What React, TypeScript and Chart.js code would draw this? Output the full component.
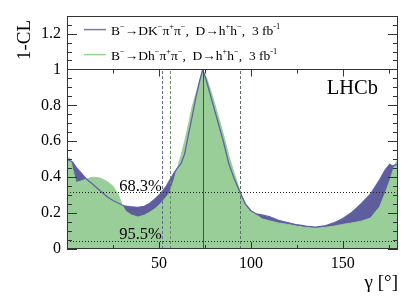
import React, { useEffect, useRef } from 'react';
import { Chart, registerables } from 'chart.js';

Chart.register(...registerables);

// gamma grid (degrees)
const gammaDeg = [
  0, 2, 3, 5, 8, 10.5, 14, 18, 22, 25, 28, 30, 32, 35, 38.5, 42, 45, 48, 51, 54, 56, 58, 60, 62, 64, 66, 68, 70, 72, 73.8,
  76, 79, 82, 85, 88, 91, 94.3, 97, 100, 103, 106, 110, 115, 120, 125, 130, 135, 140, 145, 150, 155, 160, 165, 170, 173,
  175.5, 177, 178.5, 180,
];
// 1-CL for B- -> D h- pi+ pi- (green)
const dhValues = [
  0.51, 0.5, 0.45, 0.37, 0.38, 0.39, 0.4, 0.395, 0.375, 0.35, 0.3, 0.245, 0.21, 0.19, 0.178, 0.188, 0.205, 0.225, 0.255,
  0.29, 0.317, 0.38, 0.45, 0.52, 0.6, 0.69, 0.79, 0.86, 0.93, 1.0,
  0.95, 0.855, 0.75, 0.64, 0.52, 0.42, 0.317, 0.255, 0.215, 0.19, 0.168, 0.157, 0.145, 0.137, 0.128, 0.12, 0.117, 0.12,
  0.127, 0.137, 0.145, 0.155, 0.172, 0.235, 0.31, 0.38, 0.43, 0.475, 0.5,
];
// 1-CL for B- -> D K- pi+ pi- (blue)
const dkValues = [
  0.5, 0.49, 0.485, 0.455, 0.42, 0.39, 0.36, 0.325, 0.29, 0.27, 0.255, 0.245, 0.238, 0.235, 0.232, 0.238, 0.255, 0.28, 0.31,
  0.35, 0.385, 0.42, 0.45, 0.475, 0.53, 0.635, 0.735, 0.84, 0.93, 1.0,
  0.93, 0.82, 0.71, 0.6, 0.475, 0.39, 0.31, 0.25, 0.213, 0.195, 0.19, 0.18, 0.16, 0.147, 0.135, 0.127, 0.122, 0.128,
  0.145, 0.17, 0.205, 0.252, 0.305, 0.385, 0.44, 0.472, 0.462, 0.468, 0.47,
];

const xTickValues = [50, 100, 150];
const yTickValues = [0, 0.2, 0.4, 0.6, 0.8, 1, 1.2];
const clLevels = [68.3, 95.5];
const bestFit = 73.8;
const dkInterval = [51.6, 94.3];
const dhInterval = [56, 94.3];

type Seg = [string, number];
const legendRows: Seg[][] = [
  [['B', 0], ['\u2212', 1], ['\u2192DK', 0], ['\u2212', 1], ['\u03c0', 0], ['+', 1], ['\u03c0', 0], ['\u2212', 1], [',  D\u2192h', 0], ['+', 1], ['h', 0], ['\u2212', 1], [',  3 fb', 0], ['-1', 1]],
  [['B', 0], ['\u2212', 1], ['\u2192Dh', 0], ['\u2212', 1], ['\u03c0', 0], ['+', 1], ['\u03c0', 0], ['\u2212', 1], [',  D\u2192h', 0], ['+', 1], ['h', 0], ['\u2212', 1], [',  3 fb', 0], ['-1', 1]],
];
const yTitle = '1-CL';
const xTitle = '\u03b3 [\u00b0]';
const experimentLabel = 'LHCb';

const SERIF = '"Liberation Serif", "Times New Roman", serif';
const BLUE_FILL = 'rgb(94,94,156)';
const BLUE_LINE = 'rgb(98,98,168)';
const GREEN_FILL = 'rgb(153,206,153)';
const BLUE_LEG = 'rgb(120,120,176)';
const GREEN_LEG = 'rgb(150,212,150)';
const FRAME = '#333';

function drawRich(ctx: CanvasRenderingContext2D, segs: Seg[], x: number, y: number, size: number) {
  let cx = x;
  for (const [t, sup] of segs) {
    const fs = sup ? size * 0.62 : size;
    ctx.font = `${fs}px ${SERIF}`;
    ctx.fillText(t, cx, sup ? y - size * 0.4 : y);
    cx += ctx.measureText(t).width;
  }
}

const overlay = {
  id: 'overlay',
  afterDatasetsDraw(chart: any) {
    const { ctx, chartArea: a, scales } = chart;
    const xs = scales.x;
    const ys = scales.y;
    const X = (v: number) => xs.getPixelForValue(v);
    const Y = (v: number) => ys.getPixelForValue(v);
    const line = (x1: number, y1: number, x2: number, y2: number) => {
      ctx.beginPath();
      ctx.moveTo(x1, y1);
      ctx.lineTo(x2, y2);
      ctx.stroke();
    };
    ctx.save();
    ctx.lineWidth = 1;

    // CL horizontal dotted lines
    ctx.strokeStyle = '#222';
    ctx.setLineDash([1, 2]);
    for (const cl of clLevels) {
      const yy = Math.round(Y(1 - cl / 100)) + 0.5;
      line(a.left, yy, a.right, yy);
    }
    // interval dashed lines
    ctx.setLineDash([3, 2]);
    const y0 = Y(0);
    const y1 = Y(1);
    ctx.strokeStyle = 'rgb(100,100,160)';
    line(Math.round(X(dkInterval[0])) + 0.5, y0, Math.round(X(dkInterval[0])) + 0.5, y1);
    ctx.strokeStyle = 'rgb(110,140,110)';
    line(Math.round(X(dhInterval[0])) + 0.5, y0, Math.round(X(dhInterval[0])) + 0.5, y1);
    ctx.strokeStyle = 'rgb(95,110,105)';
    line(Math.round(X(dkInterval[1])) + 0.5, y0, Math.round(X(dkInterval[1])) + 0.5, y1);
    // best fit
    ctx.setLineDash([]);
    ctx.strokeStyle = 'rgb(70,80,75)';
    line(Math.round(X(bestFit)) + 0.5, y0, Math.round(X(bestFit)) + 0.5, y1);

    // CL labels
    ctx.fillStyle = '#000';
    ctx.font = `16.5px ${SERIF}`;
    ctx.textAlign = 'left';
    ctx.textBaseline = 'alphabetic';
    ctx.fillText(`${clLevels[0]}%`, X(28.4), Y(1 - clLevels[0] / 100) - 1.5);
    ctx.fillText(`${clLevels[1]}%`, X(28.4), Y(1 - clLevels[1] / 100) - 1.5);

    // legend box
    const top = a.top;
    const lb = Math.round(y1) + 0.5;
    ctx.fillStyle = '#fff';
    ctx.fillRect(a.left, top, a.right - a.left, lb - top);
    ctx.strokeStyle = FRAME;
    line(a.left, lb, a.right, lb);
    const rowsY = [top + 14, top + 39];
    const legCols = [BLUE_LEG, GREEN_LEG];
    legendRows.forEach((segs, i) => {
      ctx.strokeStyle = legCols[i];
      ctx.lineWidth = 1.5;
      line(a.left + 17, rowsY[i], a.left + 39, rowsY[i]);
      ctx.fillStyle = '#000';
      drawRich(ctx, segs, a.left + 44, rowsY[i] + 5, 13.5);
    });
    ctx.lineWidth = 1;

    // LHCb
    ctx.fillStyle = '#000';
    ctx.font = `20.5px ${SERIF}`;
    ctx.textAlign = 'right';
    ctx.fillText(experimentLabel, 378, 94);

    // frame
    ctx.strokeStyle = FRAME;
    ctx.strokeRect(Math.round(a.left) + 0.5, Math.round(a.top) + 0.5, Math.round(a.right - a.left) - 1, Math.round(a.bottom - a.top) - 1);

    // y ticks (left and right)
    for (let k = 0; k <= 26; k++) {
      const v = k * 0.05;
      const yy = Math.round(Y(v)) + 0.5;
      const len = k % 4 === 0 ? 10 : 5;
      line(a.left, yy, a.left + len, yy);
      line(a.right, yy, a.right - len, yy);
    }
    // x ticks bottom and at y=1
    for (let v = 25; v < 180; v += 25) {
      const xx = Math.round(X(v)) + 0.5;
      const len = v % 50 === 0 ? 7 : 4;
      line(xx, a.bottom, xx, a.bottom - len);
      line(xx, lb, xx, lb + len);
    }

    // axis titles
    ctx.fillStyle = '#000';
    ctx.font = `19px ${SERIF}`;
    ctx.save();
    ctx.translate(30, 40);
    ctx.rotate(-Math.PI / 2);
    ctx.textAlign = 'center';
    ctx.fillText(yTitle, 0, 0);
    ctx.restore();
    ctx.textAlign = 'right';
    ctx.fillText(xTitle, a.right, 288);

    ctx.restore();
  },
};

export default function App() {
  const ref = useRef<HTMLCanvasElement>(null);
  useEffect(() => {
    const canvas = ref.current!;
    const pts = (vals: number[]) => gammaDeg.map((g, i) => ({ x: g, y: vals[i] }));
    const chart = new Chart(canvas, {
      type: 'line',
      data: {
        datasets: [
          { label: 'DK fill', data: pts(dkValues), fill: 'origin', backgroundColor: BLUE_FILL, borderWidth: 0, pointRadius: 0, order: 3 } as any,
          { label: 'Dh fill', data: pts(dhValues), fill: 'origin', backgroundColor: GREEN_FILL, borderColor: GREEN_FILL, borderWidth: 1, pointRadius: 0, order: 2 } as any,
          { label: 'DK line', data: pts(dkValues), fill: false, borderColor: BLUE_LINE, borderWidth: 1.3, pointRadius: 0, order: 1 } as any,
        ],
      },
      options: {
        responsive: false,
        animation: false,
        devicePixelRatio: 1,
        layout: { padding: { left: 0, top: 15, right: 21, bottom: 0 } },
        plugins: { legend: { display: false }, tooltip: { enabled: false } },
        elements: { line: { tension: 0 } },
        scales: {
          x: {
            type: 'linear',
            min: 0,
            max: 180,
            grid: { display: false, drawTicks: false },
            border: { display: false },
            afterFit: (s: any) => { s.height = 52; },
            afterBuildTicks: (s: any) => { s.ticks = xTickValues.map((v) => ({ value: v })); },
            ticks: { color: '#000', font: { family: SERIF, size: 16 }, padding: 5, maxRotation: 0, autoSkip: false },
          },
          y: {
            type: 'linear',
            min: 0,
            max: 1.3,
            grid: { display: false, drawTicks: false },
            border: { display: false },
            afterFit: (s: any) => { s.width = 67; },
            afterBuildTicks: (s: any) => { s.ticks = yTickValues.map((v) => ({ value: v })); },
            ticks: {
              color: '#000',
              font: { family: SERIF, size: 16 },
              padding: 6,
              autoSkip: false,
              callback: (v: any) => String(Math.round(Number(v) * 10) / 10),
            },
          },
        },
      } as any,
      plugins: [overlay],
    });
    return () => chart.destroy();
  }, []);
  return (
    <div style={{ position: 'fixed', left: 0, top: 0, width: 419, height: 301, background: '#fff' }}>
      <canvas ref={ref} width={419} height={301} style={{ display: 'block' }} />
    </div>
  );
}
